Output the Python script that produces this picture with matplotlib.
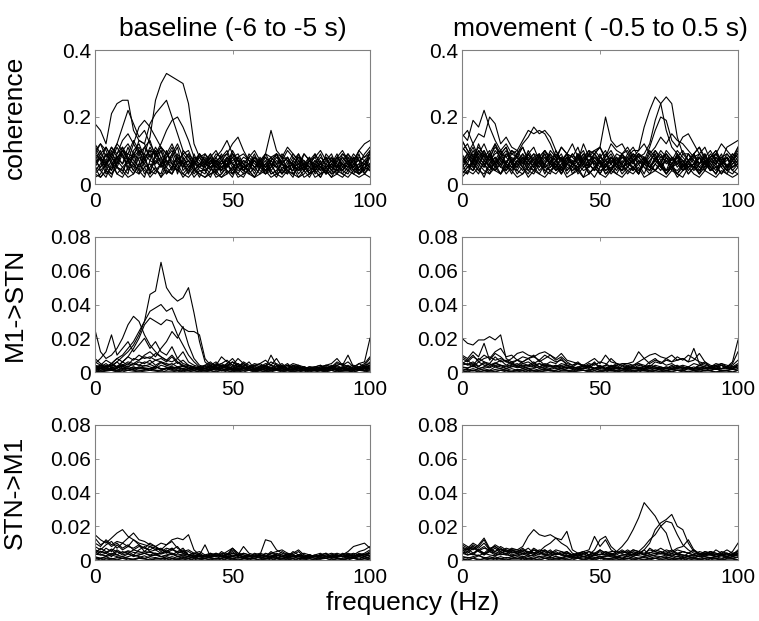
import numpy as np
import matplotlib
matplotlib.use('Agg')
import matplotlib.pyplot as plt

plt.rcParams['font.family'] = ['Liberation Sans', 'DejaVu Sans']

# spectra, 2 Hz steps from 0 to 100 Hz
# coherence in units of 0.01
coh_base = [
    "6 8 5 9 7 11 8 6 10 9 14 25 30 33 32 31 30 24 12 8 6 5 7 4 6 8 5 4 6 7 5 4 6 5 3 5 6 4 5 7 4 5 3 6 5 4 6 5 3 5 6",
    "18 16 12 21 24 25 25 16 13 12 8 10 6 7 5 8 6 4 7 5 6 8 4 5 7 3 6 5 4 7 5 6 3 4 6 5 4 7 5 3 6 4 5 6 3 5 7 4 5 6 4",
    "9 7 11 8 6 10 9 8 13 12 18 21 23 25 20 15 10 8 6 5 7 9 6 5 6 4 8 6 5 7 6 4 5 7 6 8 5 4 6 5 7 5 4 6 8 5 4 6 5 7 9",
    "5 8 6 9 12 17 22 18 14 16 12 9 11 7 6 8 5 7 4 6 6 5 7 8 9 12 14 10 7 5 6 4 7 5 6 8 5 6 4 7 5 6 8 5 4 6 5 7 4 6 5",
    "7 5 9 6 8 10 7 9 11 8 10 9 12 16 19 20 17 13 8 6 5 7 6 4 8 6 5 7 6 8 7 9 16 10 8 11 9 7 6 5 4 6 5 7 5 6 4 8 7 6 8",
    "10 12 8 11 9 13 15 12 17 19 17 14 11 9 12 8 6 7 5 9 7 6 8 10 13 9 7 5 6 8 6 5 7 9 6 5 8 6 4 7 5 8 6 4 7 9 8 6 10 12 13",
    "4 6 9 7 3 2 5 8 10 6 4 3 6 9 7 5 2 4 6 8 5 3 4 7 9 6 3 2 5 8 6 4 7 5 3 6 9 7 4 2 5 6 8 4 3 7 9 6 3 5 4",
    "11 8 5 3 6 10 12 9 4 2 7 11 8 5 3 6 9 7 4 6 8 5 2 3 6 10 7 5 4 8 6 3 5 9 8 4 2 6 7 5 9 6 3 4 8 10 7 4 3 6 8",
    "2 3 6 8 5 4 7 12 9 5 6 4 3 8 10 6 7 9 5 3 2 4 7 6 8 5 3 6 4 2 5 8 6 3 7 5 4 9 6 3 4 2 5 7 6 3 5 8 4 6 9",
    "7 10 6 4 8 9 5 3 6 11 13 8 5 7 4 9 6 3 8 7 4 6 9 8 3 5 7 4 6 9 5 7 3 4 6 8 5 2 4 7 6 9 5 3 7 4 6 5 8 7 5",
    "5 2 4 7 11 8 6 9 7 3 5 8 11 9 6 4 10 8 5 2 6 9 5 7 4 2 6 8 7 5 3 6 8 9 4 3 7 5 6 8 3 5 7 9 5 4 3 6 7 4 8",
    "9 12 10 6 5 3 8 6 4 9 7 6 10 4 3 7 5 9 7 4 3 7 5 4 8 6 4 5 9 7 4 3 6 5 8 7 3 5 4 6 8 5 4 2 5 9 7 5 6 3 6",
    "3 5 7 4 9 11 7 4 8 6 9 5 2 6 8 11 4 6 3 5 9 6 7 3 5 8 9 6 3 5 7 8 4 6 3 5 6 4 9 7 5 3 6 8 4 6 5 8 3 4 10",
    "6 8 4 2 7 5 3 10 12 8 3 9 7 5 9 3 8 5 6 9 7 4 8 5 6 3 5 7 6 4 8 5 7 9 6 4 5 8 7 3 6 4 9 7 5 8 6 3 5 7 6",
    "8 4 6 10 5 9 4 6 3 7 10 6 8 3 5 8 6 7 4 6 5 8 3 6 7 9 5 3 8 6 5 9 6 3 4 7 6 3 5 8 4 7 3 6 9 5 8 4 6 9 11",
    "10 7 3 5 8 6 11 7 5 8 4 7 5 10 6 4 7 3 9 5 4 2 6 9 5 7 8 4 6 3 7 4 5 8 6 3 7 9 5 4 7 5 3 8 6 4 7 5 9 3 5",
    "3 2 4 3 5 4 2 3 6 4 3 5 2 4 3 6 3 2 4 3 2 3 4 2 3 5 2 3 4 2 3 4 2 3 2 4 3 2 3 5 2 3 4 2 3 2 4 3 2 3 2",
    "5 4 2 6 3 5 7 4 3 5 2 4 6 3 5 4 3 5 2 4 4 5 3 2 4 3 6 4 3 2 5 3 4 2 5 4 3 5 2 3 4 2 5 3 4 3 2 4 3 5 4",
    "12 9 7 11 8 6 9 13 10 7 11 8 10 6 9 12 8 5 7 9 6 8 10 7 5 9 7 6 8 10 7 5 8 6 9 7 6 8 5 7 9 6 8 7 5 8 6 9 7 8 10",
    "6 9 11 8 12 10 7 5 9 11 8 10 6 8 11 7 9 10 6 8 9 7 5 8 10 6 8 9 7 5 6 9 8 6 7 10 8 6 9 7 8 10 7 5 8 6 9 7 10 8 9",
]
coh_move = [
    "5 8 6 9 7 5 8 6 9 7 5 8 6 7 9 5 6 8 4 7 6 5 8 7 9 6 5 7 6 8 8 10 10 17 22 26 24 16 11 9 7 5 6 8 4 7 5 6 8 5 6",
    "8 6 10 7 5 9 6 8 5 7 9 6 8 5 7 6 9 7 5 8 6 9 7 5 8 6 7 9 6 5 7 9 8 9 12 19 24 26 24 14 9 9 6 8 5 7 6 9 5 7 9",
    "11 9 7 12 8 10 6 9 11 7 8 6 10 7 5 8 6 9 7 6 5 8 6 9 10 8 7 6 9 8 6 7 9 7 11 16 20 19 13 11 14 15 12 9 6 8 10 7 11 12 13",
    "6 9 5 8 6 4 7 10 6 5 7 5 9 6 8 10 7 5 8 6 9 7 12 8 10 11 20 13 11 12 9 11 8 6 7 9 5 8 6 9 5 7 9 11 8 6 9 7 5 8 6",
    "15 13 19 17 22 17 13 10 12 9 8 11 7 9 6 10 8 7 11 9 8 6 9 7 8 6 9 7 5 8 7 9 6 8 5 7 9 6 8 5 7 5 6 9 7 5 8 6 7 9 8",
    "14 16 12 15 14 20 18 12 14 11 10 13 16 15 16 15 12 8 11 9 12 8 10 6 9 11 8 12 10 9 11 8 10 12 9 11 14 12 15 13 12 10 8 9 11 7 9 12 10 8 11",
    "13 10 8 11 9 7 12 9 8 10 9 12 14 17 15 16 14 10 7 9 6 8 5 7 6 9 5 8 7 6 8 6 9 7 5 8 6 10 8 6 9 7 5 8 6 9 7 5 8 6 7",
    "7 9 6 4 3 6 10 8 5 7 4 3 6 8 9 5 4 6 3 7 9 6 4 5 8 6 3 4 7 9 6 5 3 6 8 10 7 4 5 3 6 9 7 5 4 8 6 3 5 7 9",
    "4 3 7 10 8 5 6 9 11 6 3 5 9 7 4 6 8 5 3 6 7 4 8 10 5 3 6 8 5 4 7 5 3 8 6 4 7 9 6 3 5 7 4 6 9 5 3 7 8 4 6",
    "10 12 8 6 9 5 4 7 6 9 10 7 4 3 6 9 5 7 8 4 6 9 7 3 5 8 10 6 4 7 5 8 6 3 7 9 5 4 6 8 7 4 6 3 5 8 9 6 4 7 5",
    "3 5 4 8 6 3 7 5 4 6 8 5 2 4 7 3 6 4 5 8 3 5 6 4 2 5 7 4 6 3 5 4 7 5 3 6 4 8 5 2 4 6 5 3 7 4 5 3 6 4 3",
    "13 10 7 9 12 8 11 9 6 10 8 6 9 11 7 8 6 10 7 9 8 11 6 9 7 5 8 10 7 6 9 7 8 6 10 8 6 9 7 10 8 6 9 11 7 8 10 6 9 7 10",
    "6 8 11 7 5 9 12 7 4 8 6 9 7 5 8 10 7 4 6 9 5 7 9 6 4 8 6 3 5 9 7 4 6 8 5 7 10 8 5 6 4 7 9 6 8 5 3 6 8 5 7",
    "2 4 3 5 2 6 4 3 5 4 2 3 5 4 3 2 4 3 5 2 3 4 2 3 5 3 2 4 3 2 4 3 5 2 3 4 3 2 4 3 2 5 3 2 4 3 2 4 3 2 3",
    "9 6 4 7 10 6 8 5 9 7 5 8 6 4 7 9 6 5 8 4 6 5 7 9 6 4 5 8 6 9 5 7 4 6 9 7 5 3 6 8 5 9 7 4 6 5 8 6 4 9 7",
    "5 7 9 6 4 3 5 8 6 3 7 9 5 8 6 4 3 7 9 5 4 6 8 5 7 3 6 4 8 6 3 5 7 6 4 8 5 7 4 9 6 3 5 8 6 4 7 5 3 6 8",
    "8 5 6 10 7 9 6 3 7 5 4 7 9 6 5 7 9 4 6 8 7 3 5 6 9 7 4 6 8 5 6 9 7 5 4 6 8 7 5 8 4 6 9 5 7 4 6 8 5 7 9",
    "11 9 12 8 10 7 9 10 8 6 9 11 7 9 8 6 10 8 7 9 6 8 7 10 9 11 7 8 6 9 10 7 9 8 6 10 8 9 7 8 10 7 9 6 8 10 7 8 9 7 11",
    "4 6 5 3 7 5 4 6 3 5 6 4 7 5 3 6 4 5 7 3 5 4 6 3 5 7 4 5 3 6 4 5 3 7 5 4 6 3 5 4 6 3 5 4 7 5 3 6 4 5 6",
    "6 3 8 5 9 7 5 8 10 6 5 8 4 6 9 5 7 6 4 8 6 9 5 6 4 7 5 8 6 4 8 6 9 7 5 7 6 4 8 6 7 5 8 6 9 6 4 7 5 8 6",
    "3 5 7 4 6 8 5 3 6 4 7 5 3 6 8 4 5 7 3 6 4 5 2 6 4 7 3 5 6 4 5 7 3 6 5 4 6 3 5 7 4 5 6 3 7 4 5 6 4 3 5",
]

# Granger causality in units of 0.001
m1stn_base = [
    "3 2 4 3 6 9 12 16 22 30 46 48 65 50 45 42 44 50 35 18 6 3 4 3 2 3 5 2 3 2 3 2 1 2 3 2 1 2 3 2 1 2 3 2 1 2 3 2 1 2 3",
    "2 4 3 5 8 10 14 18 24 30 36 38 40 36 38 30 26 24 24 22 8 4 2 3 4 2 3 5 3 2 2 3 1 2 4 2 3 2 1 2 2 1 3 2 4 2 1 2 3 2 4",
    "1 3 2 4 3 6 9 14 20 28 32 30 28 31 30 22 16 10 6 3 2 3 2 4 3 2 1 3 2 1 2 3 2 1 2 4 2 1 3 2 1 2 3 2 1 3 2 2 1 3 2",
    "25 12 8 10 14 20 28 33 30 22 16 12 9 7 10 6 4 3 2 3 2 4 3 2 5 3 2 4 3 2 3 2 4 2 3 5 2 3 2 1 2 3 2 4 3 2 1 3 2 3 4",
    "5 8 12 22 10 14 18 12 16 20 14 18 12 10 15 8 12 6 4 3 2 4 6 3 5 8 4 3 6 2 3 5 4 8 3 2 4 3 2 3 2 3 4 3 5 4 6 3 2 4 8",
    "3 4 2 5 3 6 4 8 7 10 12 9 14 18 24 20 27 16 8 4 3 2 4 5 3 6 4 2 3 5 4 3 6 4 2 3 5 4 3 2 3 4 2 3 6 4 3 2 5 3 4",
    "6 4 7 5 8 6 9 7 10 8 9 7 8 6 9 5 7 4 3 2 3 5 4 9 6 4 8 5 3 4 5 3 10 4 3 2 4 3 2 3 2 3 4 5 8 4 10 3 5 6 20",
    "4 2 3 5 3 4 6 5 7 9 8 11 9 7 6 8 5 4 3 2 4 6 3 5 7 4 3 6 4 3 5 7 4 3 5 2 3 4 2 3 3 4 2 3 4 5 3 4 3 5 9",
    "2 3 1 3 2 4 3 5 4 6 5 7 6 4 5 3 4 2 3 1 2 3 2 4 3 2 5 3 2 3 2 4 2 3 2 1 2 3 2 1 2 1 2 3 2 3 2 1 2 3 6",
    "1 2 1 2 1 3 2 3 2 4 3 2 4 3 2 3 2 1 2 1 1 2 1 2 3 1 2 1 2 1 2 1 2 1 1 2 1 2 1 2 1 2 1 1 2 1 2 1 2 1 3",
    "3 1 2 1 3 2 1 2 3 2 1 3 2 1 3 1 2 3 1 2 2 1 3 1 2 1 1 3 1 2 1 2 1 2 1 1 2 1 1 1 2 1 1 2 1 2 1 1 2 1 2",
    "8 5 3 4 6 3 5 4 6 5 7 4 6 5 4 6 3 4 2 3 4 2 5 3 4 6 3 5 2 4 3 4 2 5 3 4 3 2 3 2 3 2 4 3 2 3 4 2 3 4 5",
    "1 0 1 1 0 1 1 2 1 1 2 1 1 2 1 1 0 1 1 0 1 1 0 1 1 0 1 1 1 0 1 0 1 1 0 1 0 1 1 0 1 1 0 1 0 1 1 0 1 1 1",
    "2 1 2 2 1 2 2 3 2 2 2 3 2 2 3 2 2 1 2 1 2 1 2 2 1 2 1 2 2 1 1 2 1 1 2 1 2 1 1 2 1 2 2 1 2 1 1 2 1 2 2",
    "1.5 0.5 1 2 0.5 1.5 2.5 1 0.5 1.5 2 1 0.5 2.5 1.5 1 0.5 2 1 1.5 0.5 1 2 0.5 1.5 1 0.5 2 1 0.5 1.5 1 0.5 2 1 1.5 0.5 1 2 0.5 1 1.5 0.5 2 1 0.5 1.5 1 2 0.5 1.5",
    "2.5 2 3 1.5 2.5 3.5 2 1.5 3 2.5 2 3.5 1.5 2.5 2 3 1.5 2 2.5 1.5 2 1.5 2.5 1 2 1.5 2.5 2 1 1.5 2 1 2.5 1.5 1 2 1.5 2.5 1 2 1.5 1 2 2.5 1.5 1 2 1.5 1 2.5 2",
    "0.5 0 0.5 1 0.5 0 1 0.5 0 0.5 1 0.5 0 0.5 0.5 0 1 0.5 0 0.5 0.5 0 0.5 1 0 0.5 0.5 0 1 0.5 0 0.5 0 1 0.5 0 0.5 0.5 0 1 0.5 0 0.5 1 0 0.5 0.5 0 1 0.5 0",
    "4 3 5 2.5 3.5 4.5 3 5 4 3.5 4.5 3 5.5 4 3 2.5 3.5 2 3 2.5 2 3 1.5 2.5 3 2 1.5 2.5 3 2 1.5 2 3 1.5 2.5 2 1.5 3 2 1.5 2.5 2 1.5 2 3 2.5 1.5 2 2.5 3 3.5",
]
m1stn_move = [
    "20 17 16 19 19 21 19 22 8 6 7 5 6 4 5 3 4 2 3 4 3 2 4 3 2 3 2 3 4 2 3 2 3 2 4 3 2 3 2 3 2 3 2 4 3 2 3 2 3 2 4",
    "10 8 12 9 17 7 11 9 6 8 11 12 10 9 11 12 10 8 11 7 6 5 4 6 8 5 10 6 5 4 5 4 6 8 5 7 6 4 5 3 4 3 5 4 6 3 4 5 3 5 12",
    "8 6 9 7 10 8 12 14 9 10 7 9 8 10 6 8 10 7 9 6 4 6 3 5 4 6 5 3 4 5 5 6 12 8 10 11 9 8 10 7 8 6 14 5 4 3 5 4 3 6 19",
    "5 7 4 8 6 5 9 6 7 5 4 6 8 5 7 4 6 5 8 4 3 5 4 3 6 2 4 3 5 4 3 4 5 3 6 8 5 7 6 9 7 10 8 6 5 3 4 2 3 4 7",
    "6 4 5 3 6 4 5 7 4 6 3 5 4 6 3 5 4 3 5 4 2 3 4 2 5 3 2 4 3 2 3 2 4 3 2 4 3 2 3 4 2 3 2 4 3 2 3 4 2 3 5",
    "3 2 4 2 3 5 3 4 2 3 4 2 3 4 2 3 2 4 3 2 3 2 2 3 2 4 2 3 2 2 2 3 2 2 3 2 3 2 4 2 3 2 2 3 2 3 2 2 3 2 3",
    "2 1 2 1 2 1 3 2 1 2 1 2 1 2 1 2 1 1 2 1 1 2 1 1 2 1 1 2 1 1 2 1 1 2 1 1 2 1 2 1 1 2 1 1 2 1 2 1 1 2 1",
    "4 5 3 6 4 3 5 4 3 4 5 3 4 3 5 4 3 4 2 3 2 3 2 4 2 3 2 2 3 2 2 3 2 3 4 3 2 3 2 3 3 2 3 2 3 2 2 4 2 3 2",
    "1 0 1 0 1 1 0 1 1 0 1 1 0 1 0 1 1 0 1 1 0 1 1 0 1 0 1 1 0 1 1 0 1 1 0 1 0 1 0 1 1 0 1 0 1 1 0 1 1 0 1",
    "9 7 10 6 8 9 7 8 6 5 7 6 8 9 7 10 8 6 7 5 4 5 3 4 5 3 4 8 5 3 4 3 5 4 3 6 5 8 6 7 8 6 7 11 6 4 3 5 4 3 4",
    "1 1.5 0.5 2 1 0.5 1.5 2 1 0.5 1.5 1 2 0.5 1 1.5 0.5 1 2 1 0.5 1.5 1 0.5 2 1 1.5 0.5 1 2 0.5 1 1.5 0.5 1 2 1 0.5 1.5 1 0.5 2 1 1.5 0.5 1 2 0.5 1 1.5 1",
    "3 2.5 3.5 2 3 2.5 4 3 2 3.5 2.5 3 2 2.5 3 2 1.5 2.5 2 3 1.5 2 2.5 1.5 2 3 2 1.5 2.5 2 1.5 2 2.5 1.5 2 2.5 1.5 2 3 2 1.5 2.5 2 1.5 2 2.5 1.5 2 2.5 2 3",
    "0 0.5 1 0.5 0 0.5 0.5 1 0 0.5 0.5 0 1 0.5 0 0.5 1 0 0.5 0.5 0 0.5 1 0.5 0 0.5 0 1 0.5 0 0.5 0.5 0 1 0 0.5 0.5 0 0.5 1 0 0.5 0.5 0 1 0.5 0 0.5 0.5 0 1",
    "5 4.5 6 3.5 5 4 5.5 4 3.5 4.5 3 4 3.5 5 3 4 3.5 3 4 2.5 3 2.5 2 3 2.5 2 3 1.5 2.5 2 3 2 2.5 1.5 3 2 2.5 2 1.5 2.5 3 2 1.5 2.5 2 3 1.5 2 2.5 2 4",
]
stnm1_base = [
    "15 12 10 13 16 18 14 12 10 9 8 7 6 5 7 4 5 3 4 3 2 3 4 2 3 4 3 2 3 2 3 2 4 3 2 3 2 3 2 3 2 3 2 3 2 3 4 3 5 6 8",
    "10 8 12 9 11 10 13 16 12 11 9 8 10 9 12 13 12 15 6 3 2 3 2 4 3 6 3 4 3 2 3 12 11 6 4 3 2 3 4 3 2 3 2 3 4 3 5 8 9 10 7",
    "13 9 11 8 10 7 9 6 8 7 10 8 6 9 11 7 5 6 4 3 9 2 3 2 4 2 3 8 4 3 2 4 3 2 5 3 4 6 3 2 3 4 2 3 2 4 3 4 3 2 4",
    "6 4 7 5 9 6 8 7 9 5 8 6 7 4 6 5 7 3 4 5 3 4 2 5 3 7 4 3 2 4 3 2 5 3 2 4 3 5 2 3 2 3 4 2 3 2 3 2 4 3 5",
    "3 5 4 6 3 5 4 6 5 4 5 3 4 6 3 5 4 3 2 4 2 3 2 3 2 4 3 2 3 2 3 2 2 3 2 3 2 3 2 3 2 3 2 2 3 2 3 2 3 2 3",
    "2 1 2 3 2 1 2 3 2 1 2 3 2 1 2 1 2 1 2 1 2 1 1 2 1 2 1 2 1 1 2 1 2 1 2 1 1 2 1 2 1 2 1 2 1 1 2 1 2 1 2",
    "1 0 1 1 0 1 1 0 1 1 0 1 1 0 1 0 1 1 0 1 1 0 1 0 1 1 0 1 0 1 0 1 0 1 1 0 1 0 1 1 0 1 1 0 1 0 1 1 0 1 1",
    "8 6 9 11 7 10 8 12 9 7 6 8 5 7 6 8 4 5 3 2 3 2 4 3 5 7 4 3 2 3 4 3 2 4 3 2 5 3 2 3 2 3 4 2 3 2 2 3 2 3 4",
    "4 7 5 3 6 4 5 3 6 8 5 6 4 5 7 4 6 3 2 3 2 4 3 2 3 5 2 4 3 2 3 2 4 5 6 4 3 2 3 2 3 2 3 4 3 2 3 2 3 4 6",
    "5 3 4 2 5 3 4 2 3 4 3 4 2 3 4 2 3 2 3 2 1 2 3 2 1 3 2 1 2 1 2 1 2 3 2 1 2 3 2 1 2 1 2 1 2 3 2 1 2 1 2",
    "1.5 1 2 0.5 1.5 2 1 0.5 1.5 2.5 1 1.5 0.5 2 1 0.5 1.5 1 2 0.5 1 1.5 0.5 1 2 0.5 1.5 1 0.5 2 1 0.5 1.5 1 0.5 1.5 2 1 0.5 1.5 1 0.5 2 1 1.5 0.5 1 1.5 0.5 2 1",
    "3.5 3 2.5 4 3 2 3.5 2.5 3 4 2.5 3 2 2.5 3.5 2 2.5 2 1.5 2.5 2 1.5 2.5 2 1.5 2 3 1.5 2 2.5 1.5 2 2.5 1.5 2 1.5 2.5 2 1.5 2 2.5 1.5 2 1.5 2.5 2 1.5 2 2.5 3 2.5",
    "0.5 1 0 0.5 0.5 1 0 0.5 1 0.5 0 0.5 0.5 1 0 0.5 0.5 0 1 0.5 0 0.5 0.5 1 0 0.5 0 0.5 1 0.5 0 0.5 1 0 0.5 0.5 0 1 0.5 0 0.5 0.5 1 0 0.5 0.5 0 1 0.5 0 0.5",
    "6 5 4.5 6.5 5 4 5.5 4.5 4 5 4.5 4 3.5 4.5 4 3 3.5 3 2.5 2 2.5 2 3 2.5 2 2.5 3 2 2.5 2 3 2.5 2 2.5 3 2 2.5 2 1.5 2.5 2 2.5 3 2 2.5 2 3 2.5 3 3.5 4",
]
stnm1_move = [
    "8 6 9 7 10 6 8 5 7 6 5 6 4 7 5 6 4 5 3 4 3 4 5 3 4 6 4 5 5 8 12 18 25 34 30 26 20 16 6 4 5 4 6 3 5 4 3 5 4 3 6",
    "5 7 4 6 8 5 7 4 6 5 4 6 5 3 5 4 6 3 5 4 3 2 4 5 3 6 4 3 5 4 5 4 3 6 10 18 22 24 27 20 18 10 5 4 3 5 4 3 2 4 3",
    "6 4 7 5 3 6 4 5 3 6 4 5 3 6 4 3 5 4 3 5 2 4 3 5 4 3 5 3 4 6 4 6 5 8 12 15 20 23 22 15 9 6 4 3 5 4 2 3 4 2 4",
    "9 7 10 8 12 6 9 7 5 6 6 8 14 18 15 14 15 13 10 8 4 3 5 6 14 8 12 6 4 5 4 6 5 3 4 6 5 4 6 3 5 4 3 5 4 3 6 4 3 5 10",
    "7 5 8 6 4 7 5 8 6 4 5 7 4 6 5 8 10 13 12 17 6 4 5 3 6 12 14 8 5 4 6 4 5 3 7 5 4 6 5 7 8 12 6 4 3 5 4 3 4 3 5",
    "4 5 3 6 4 5 3 4 5 3 4 3 5 4 3 6 4 3 4 5 3 4 2 3 4 3 5 4 3 5 4 3 5 4 6 5 7 5 4 6 5 4 6 3 4 5 3 4 6 4 5",
    "10 8 6 9 13 7 8 6 5 7 6 5 7 4 6 5 4 6 5 3 2 3 4 2 3 5 3 4 2 3 3 5 4 6 3 4 5 3 4 3 2 4 3 2 3 4 2 3 4 2 3",
    "2 1 2 3 1 2 1 2 1 2 1 2 1 2 1 2 1 2 1 1 2 1 2 1 1 2 1 1 2 1 2 1 1 2 1 2 1 2 1 2 1 2 1 1 2 1 2 1 2 1 2",
    "1 0 1 0 1 1 0 1 0 1 1 0 1 1 0 1 0 1 1 0 1 1 0 1 0 1 1 0 1 0 1 0 1 0 1 1 0 1 0 1 0 1 1 0 1 0 1 0 1 1 0",
    "5 3 4 6 3 5 4 3 4 2 3 4 2 3 5 3 2 4 3 2 2 3 2 1 3 2 2 3 2 1 3 2 4 3 2 3 4 3 2 4 3 2 3 2 4 3 2 3 2 3 4",
    "2 1.5 1 2.5 1.5 1 2 0.5 1.5 1 2 1.5 0.5 1 2 1 1.5 0.5 1 2 1.5 1 0.5 1.5 1 2 0.5 1 1.5 1 0.5 2 1 1.5 0.5 1 2 1.5 1 0.5 1.5 1 2 0.5 1 1.5 1 0.5 2 1 1.5",
    "4 3 3.5 2.5 4 3 2.5 3.5 3 2.5 3 2 2.5 3 2 2.5 3 2 1.5 2.5 2 1.5 2 2.5 1.5 2 2.5 2 1.5 2.5 2 3 2.5 2 3 2.5 2 3 2.5 2 2.5 2 1.5 2.5 2 1.5 2 2.5 1.5 2 3",
    "0.5 0 1 0.5 0 0.5 1 0.5 0 0.5 0.5 1 0 0.5 0 1 0.5 0 0.5 0.5 0 1 0.5 0 0.5 1 0 0.5 0.5 0 1 0.5 0 0.5 0 1 0.5 0.5 0 0.5 1 0 0.5 0.5 0 1 0.5 0 0.5 0.5 0",
    "7 6 8 5.5 7 6 5 6.5 5 4.5 5 4 3.5 4.5 4 3.5 3 4 3 2.5 3 2.5 2 3 2.5 3.5 3 2.5 2 3 3.5 3 4 3.5 4.5 4 3.5 4 3 3.5 3 2.5 3 2 2.5 3 2 2.5 3 2.5 4",
]

col_titles = ['baseline (-6 to -5 s)', 'movement ( -0.5 to 0.5 s)']
row_labels = ['coherence', 'M1->STN', 'STN->M1']
xticks = [0, 50, 100]
coh_ticks = [0, 0.2, 0.4]
coh_ticklabels = ['0', '0.2', '0.4']
gc_ticks = [0, 0.02, 0.04, 0.06, 0.08]
gc_ticklabels = ['0', '0.02', '0.04', '0.06', '0.08']

panels = [
    [(coh_base, 0.01), (coh_move, 0.01)],
    [(m1stn_base, 0.001), (m1stn_move, 0.001)],
    [(stnm1_base, 0.001), (stnm1_move, 0.001)],
]

fig = plt.figure(figsize=(7.59, 6.21), dpi=100)

lefts = [95 / 759, 462 / 759]
widths = [275 / 759, 276 / 759]
bottoms = [1 - 184 / 621, 1 - 372 / 621, 1 - 560 / 621]
heights = [134 / 621, 135 / 621, 135 / 621]

frame_col = '#808080'

for r in range(3):
    for c in range(2):
        ax = fig.add_axes([lefts[c], bottoms[r], widths[c], heights[r]])
        traces, scale = panels[r][c]
        for s in traces:
            vals = np.array(s.split(), dtype=float) * scale
            freqs = np.linspace(0, 100, len(vals))
            ax.plot(freqs, vals, color='black', lw=0.8)

        ax.set_xlim(0, 100)
        ax.set_xticks(xticks)
        ax.set_xticklabels([str(t) for t in xticks])
        if r == 0:
            ax.set_ylim(0, 0.4)
            ax.set_yticks(coh_ticks)
            ax.set_yticklabels(coh_ticklabels)
            ax.set_title(col_titles[c], fontsize=19, pad=10)
        else:
            ax.set_ylim(0, 0.08)
            ax.set_yticks(gc_ticks)
            ax.set_yticklabels(gc_ticklabels)

        for sp in ax.spines.values():
            sp.set_color(frame_col)
            sp.set_linewidth(0.8)
        ax.tick_params(direction='in', length=3, width=0.6, color=frame_col,
                       top=True, right=True, labelsize=15, pad=3)
        ax.tick_params(axis='x', pad=6)

        if c == 0:
            ax.set_ylabel(row_labels[r], fontsize=19)
            ax.yaxis.set_label_coords(-95 / 275 + 27 / 275, 0.5)

fig.text(413 / 759, 1 - 603 / 621, 'frequency (Hz)', fontsize=19,
         ha='center', va='center')

fig.savefig('out.png', dpi=100)
